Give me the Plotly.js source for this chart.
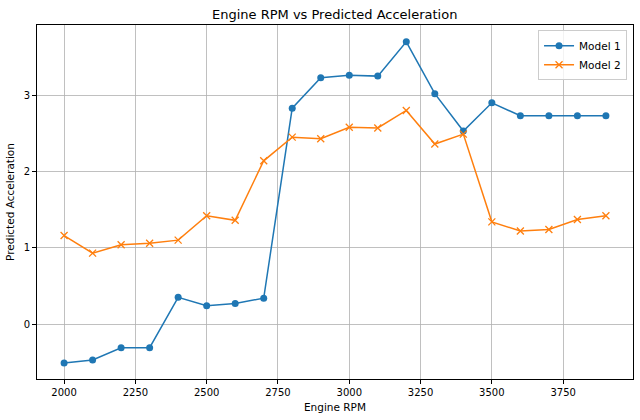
<!DOCTYPE html>
<html lang="en">
<head>
    <meta charset="UTF-8">
    <title>Engine RPM vs Predicted Acceleration</title>
    <script src="https://cdn.plot.ly/plotly-3.0.1.min.js"></script>
    <style>
        body { margin: 0; }
        #plot { width: 640px; height: 420px; }
    </style>
</head>

<body>
<div id="plot"></div>

<script>

    const rpm = [2000, 2100, 2200, 2300, 2400, 2500, 2600, 2700, 2800, 2900,
                 3000, 3100, 3200, 3300, 3400, 3500, 3600, 3700, 3800, 3900]

    const model1 = [-0.51, -0.47, -0.31, -0.31, 0.35, 0.24, 0.27, 0.34, 2.83, 3.23,
                    3.26, 3.25, 3.70, 3.02, 2.53, 2.90, 2.73, 2.73, 2.73, 2.73]

    const model2 = [1.16, 0.93, 1.04, 1.06, 1.10, 1.42, 1.36, 2.14, 2.45, 2.43,
                    2.58, 2.57, 2.80, 2.36, 2.49, 1.34, 1.22, 1.24, 1.37, 1.42]

    const traceModel1 = {
        x: rpm,
        y: model1,
        name: 'Model 1',
        type: 'scatter',
        mode: 'lines+markers',
        line: { color: '#1f77b4', width: 1.5 },
        marker: { symbol: 'circle', size: 7, color: '#1f77b4' }
    }

    const traceModel2 = {
        x: rpm,
        y: model2,
        name: 'Model 2',
        type: 'scatter',
        mode: 'lines+markers',
        line: { color: '#ff7f0e', width: 1.5 },
        marker: { symbol: 'x-thin-open', size: 7, color: '#ff7f0e', line: { color: '#ff7f0e', width: 1.3 } }
    }

    const axisStyle = {
        showgrid: true,
        gridcolor: '#b0b0b0',
        gridwidth: 0.8,
        zeroline: false,
        showline: true,
        linecolor: '#000',
        linewidth: 1,
        mirror: true,
        ticks: 'outside',
        ticklen: 4,
        tickcolor: '#000',
        tickfont: { size: 10, color: '#000' }
    }

    const layout = {
        width: 640,
        height: 420,
        font: { family: 'DejaVu Sans', color: '#000' },
        paper_bgcolor: '#fff',
        plot_bgcolor: '#fff',
        margin: { l: 37, r: 7, t: 25, b: 41 },
        title: { text: 'Engine RPM vs Predicted Acceleration', font: { size: 13 }, x: 0.523, xanchor: 'center', y: 0.966, yanchor: 'middle' },
        xaxis: Object.assign({}, axisStyle, {
            range: [1905, 3995],
            tick0: 2000,
            dtick: 250,
            title: { text: 'Engine RPM', font: { size: 10.5 }, standoff: 6 }
        }),
        yaxis: Object.assign({}, axisStyle, {
            range: [-0.72, 3.92],
            tick0: 0,
            dtick: 1,
            title: { text: 'Predicted Acceleration', font: { size: 10.5 }, standoff: 6 }
        }),
        legend: {
            x: 0.99,
            y: 0.985,
            xanchor: 'right',
            yanchor: 'top',
            bgcolor: 'rgba(255,255,255,0.8)',
            bordercolor: '#cccccc',
            borderwidth: 1,
            font: { size: 10.5 },
            tracegroupgap: 0
        },
        showlegend: true
    }

    Plotly.newPlot('plot', [traceModel1, traceModel2], layout, { displayModeBar: false, staticPlot: true })

</script>

</body>
</html>
